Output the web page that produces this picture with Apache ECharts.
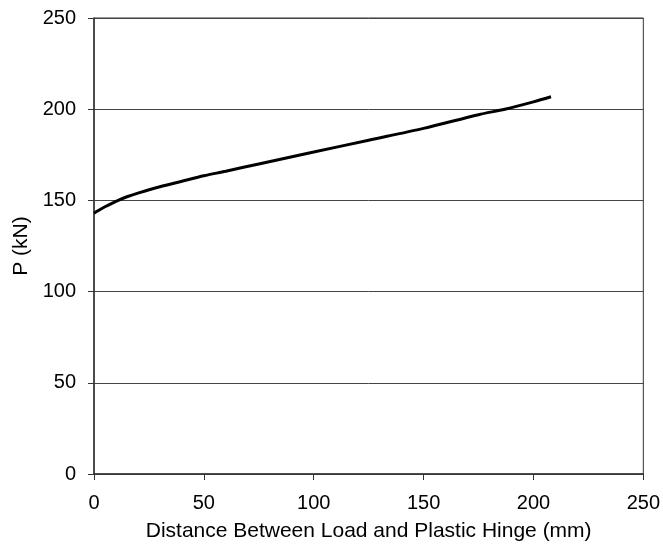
<!DOCTYPE html>
<html>
<head>
<meta charset="utf-8">
<script src="https://cdn.jsdelivr.net/npm/echarts@6/dist/echarts.min.js"></script>
<style>
  html, body { margin: 0; padding: 0; background: #fff; }
  #chart { width: 663px; height: 552px; }
</style>
</head>
<body>
<div id="chart"></div>
<script>
// Load vs. distance between load point and plastic hinge
const distance = [0, 2, 5, 10, 15, 20, 30, 40, 50, 60, 75, 100, 125, 150, 175, 187, 200, 208];
const load     = [143, 144.5, 146.5, 149.5, 152, 154, 157.5, 160.5, 163.5, 166, 170, 176.5, 183, 189.5, 197, 200, 204, 206.8];

const xTicks = [0, 50, 100, 150, 200, 250];
const yTicks = [0, 50, 100, 150, 200, 250];

const chart = echarts.init(document.getElementById('chart'), null, { renderer: 'canvas' });
const font = '"Liberation Sans", Arial, sans-serif';

chart.setOption({
  animation: false,
  backgroundColor: '#fff',
  grid: { left: 94, right: 19, top: 18, bottom: 78, show: true, borderColor: '#333', borderWidth: 1 },
  xAxis: {
    type: 'value',
    min: xTicks[0], max: xTicks[xTicks.length - 1], interval: 50,
    name: 'Distance Between Load and Plastic Hinge (mm)',
    nameLocation: 'middle', nameGap: 47,
    nameTextStyle: { fontFamily: font, fontSize: 21, color: '#000' },
    axisLine: { show: true, lineStyle: { color: '#333', width: 1.5 } },
    axisTick: { show: true, inside: false, length: 6, lineStyle: { color: '#333' } },
    axisLabel: { fontFamily: font, fontSize: 20, color: '#000', margin: 19 },
    splitLine: { show: false }
  },
  yAxis: {
    type: 'value',
    min: yTicks[0], max: yTicks[yTicks.length - 1], interval: 50,
    name: 'P (kN)',
    nameLocation: 'middle', nameGap: 58, nameRotate: 90,
    nameTextStyle: { fontFamily: font, fontSize: 21, color: '#000' },
    axisLine: { show: true, lineStyle: { color: '#333', width: 1.5 } },
    axisTick: { show: true, inside: false, length: 6, lineStyle: { color: '#333' } },
    axisLabel: { fontFamily: font, fontSize: 20, color: '#000', margin: 18 },
    splitLine: { show: true, lineStyle: { color: '#444', width: 1 } }
  },
  series: [{
    type: 'line',
    data: distance.map((d, i) => [d, load[i]]),
    smooth: 0.3,
    showSymbol: false,
    lineStyle: { color: '#000', width: 3 }
  }]
});
</script>
</body>
</html>
